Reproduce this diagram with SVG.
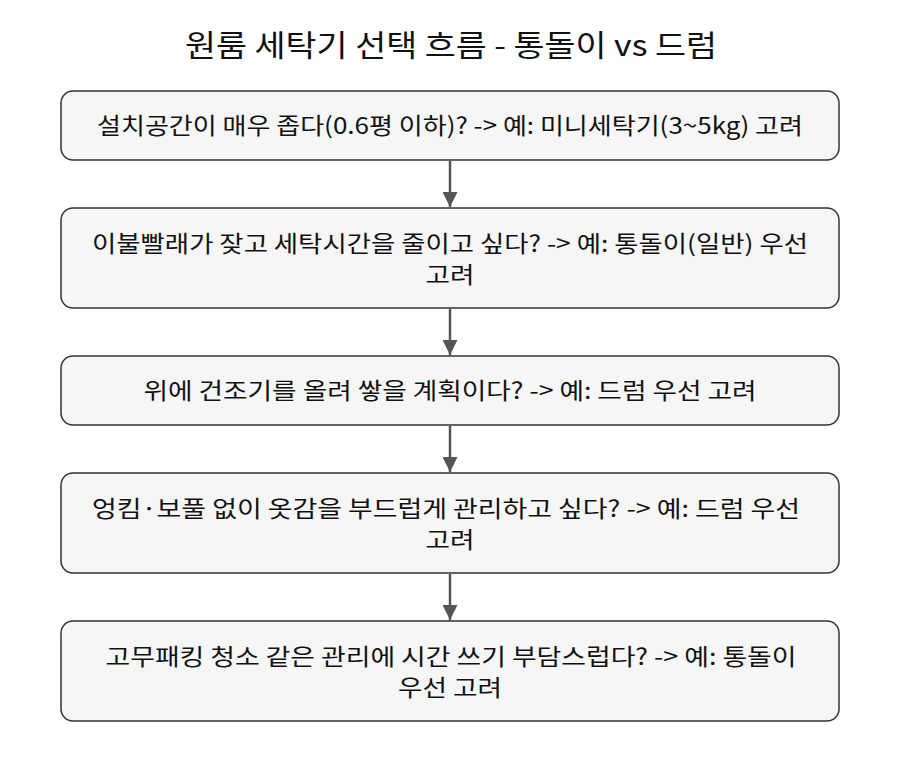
<svg xmlns="http://www.w3.org/2000/svg" width="900" height="762" viewBox="0 0 900 762">
<style>
.b{fill:#f6f6f6;stroke:#333;stroke-width:1.5}
.t{font-family:"Noto Sans CJK KR","Liberation Sans",sans-serif;font-size:23px;fill:#111;text-anchor:middle}
.c{stroke:#555;stroke-width:2.5;fill:none;marker-end:url(#a)}
</style>
<defs><marker id="a" viewBox="0 0 10 10" refX="10" refY="5" markerWidth="6" markerHeight="6" orient="auto" markerUnits="strokeWidth"><path d="M0,0L10,5L0,10z" fill="#555"/></marker></defs>
<rect width="900" height="762" fill="#fff"/>
<text x="451" y="56" class="t" style="font-size:30px" textLength="532" lengthAdjust="spacingAndGlyphs">원룸 세탁기 선택 흐름 - 통돌이 vs 드럼</text>
<g id="connectors">
<path class="c" d="M450,161V207"/>
<path class="c" d="M450,309V355"/>
<path class="c" d="M450,426V472"/>
<path class="c" d="M450,574V620"/>
</g>
<g id="n1"><rect class="b" x="61" y="91" width="778" height="69" rx="12"/><text class="t" x="450" y="134" textLength="706" lengthAdjust="spacingAndGlyphs">설치공간이 매우 좁다(0.6평 이하)? -&gt; 예: 미니세탁기(3~5kg) 고려</text></g>
<g id="n2"><rect class="b" x="61" y="208" width="778" height="100" rx="12"/><text class="t" x="450" y="252" textLength="716" lengthAdjust="spacingAndGlyphs">이불빨래가 잦고 세탁시간을 줄이고 싶다? -&gt; 예: 통돌이(일반) 우선</text><text class="t" x="450" y="283" textLength="49" lengthAdjust="spacingAndGlyphs">고려</text></g>
<g id="n3"><rect class="b" x="61" y="356" width="778" height="69" rx="12"/><text class="t" x="450" y="399" textLength="613" lengthAdjust="spacingAndGlyphs">위에 건조기를 올려 쌓을 계획이다? -&gt; 예: 드럼 우선 고려</text></g>
<g id="n4"><rect class="b" x="61" y="473" width="778" height="100" rx="12"/><text class="t" x="446" y="517" textLength="708" lengthAdjust="spacingAndGlyphs">엉킴·보풀 없이 옷감을 부드럽게 관리하고 싶다? -&gt; 예: 드럼 우선</text><text class="t" x="450" y="548" textLength="49" lengthAdjust="spacingAndGlyphs">고려</text></g>
<g id="n5"><rect class="b" x="61" y="621" width="778" height="100" rx="12"/><text class="t" x="451" y="665" textLength="691" lengthAdjust="spacingAndGlyphs">고무패킹 청소 같은 관리에 시간 쓰기 부담스럽다? -&gt; 예: 통돌이</text><text class="t" x="450" y="696" textLength="104" lengthAdjust="spacingAndGlyphs">우선 고려</text></g>
</svg>
